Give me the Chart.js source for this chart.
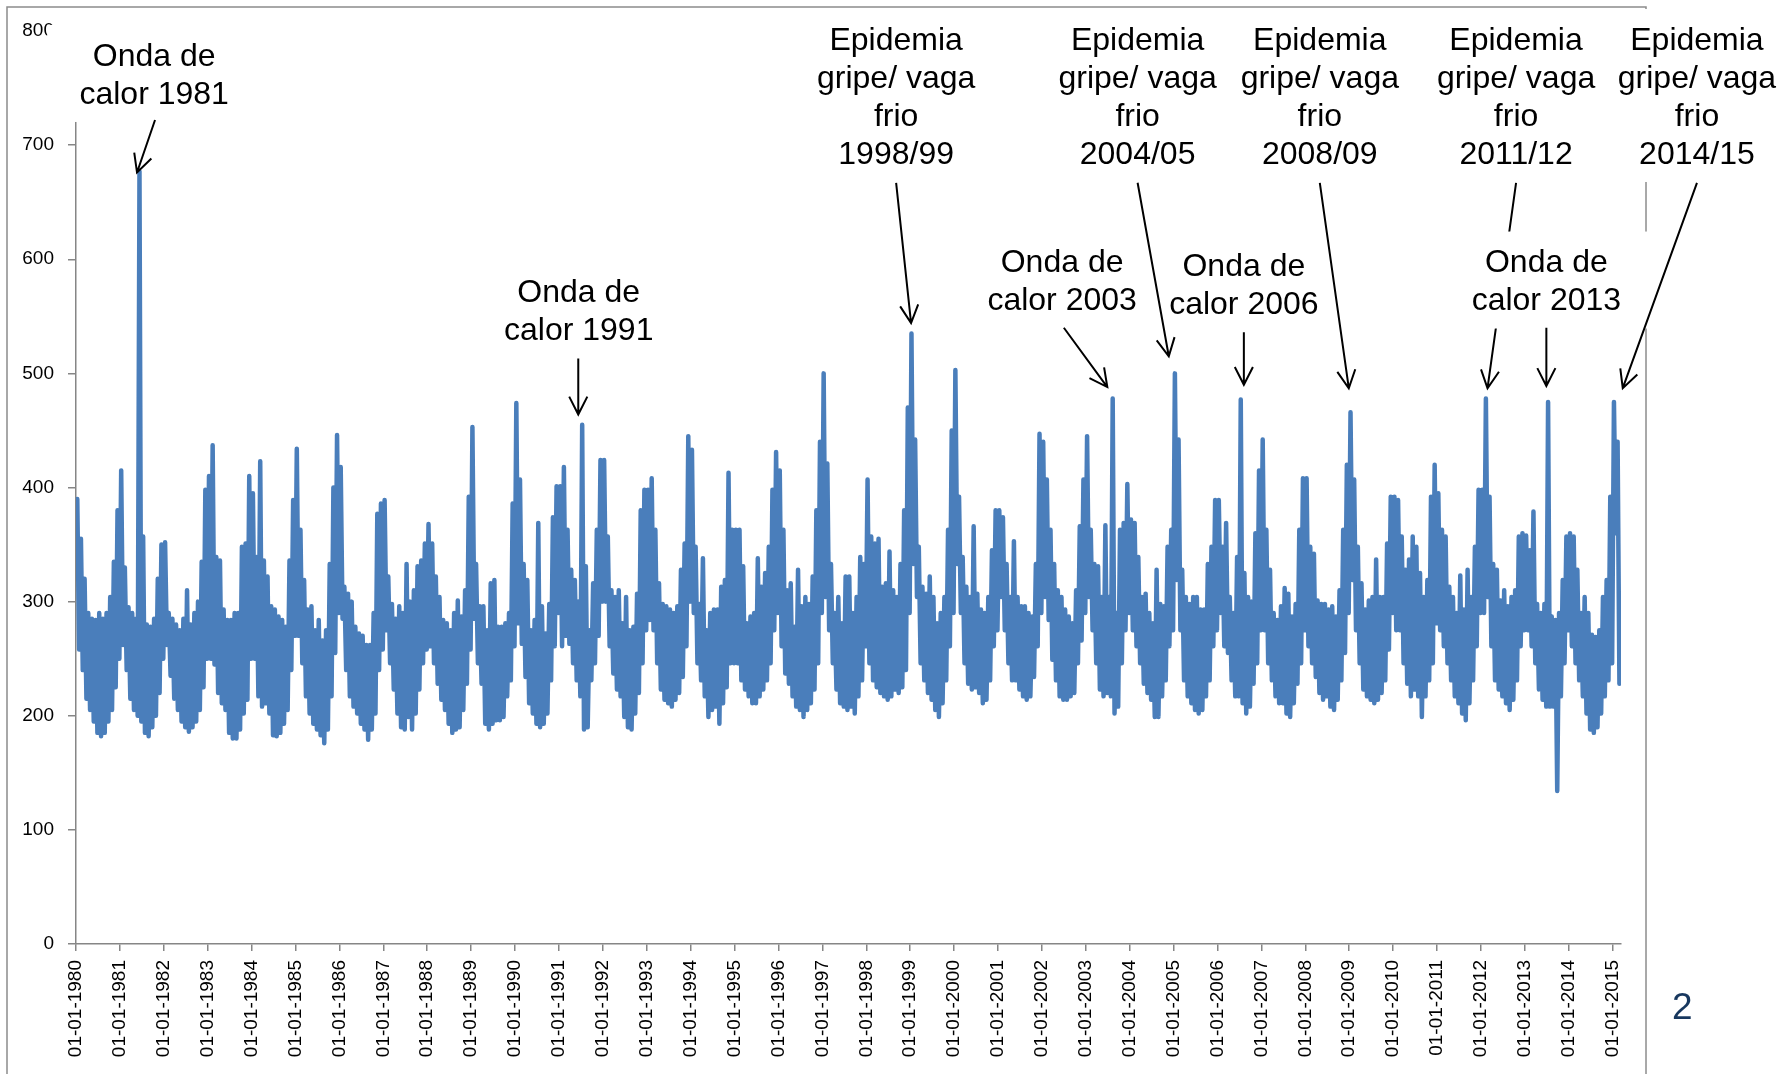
<!DOCTYPE html>
<html>
<head>
<meta charset="utf-8">
<script src="https://cdn.jsdelivr.net/npm/chart.js@4.4.1/dist/chart.umd.min.js"></script>
<style>
  html, body { margin: 0; padding: 0; background: #fff; }
  #wrap { position: relative; width: 1786px; height: 1074px; overflow: hidden; }
  #slideNo { position: absolute; left: 1672px; top: 986px; font: 37px "Liberation Sans", Arial, sans-serif; color: #17375E; }
</style>
</head>
<body>
<div id="wrap">
  <canvas id="chart" width="1786" height="1074"></canvas>
  <div id="slideNo">2</div>
</div>
<script>
const firstYear = 1980;
const tickYears = [1980, 1981, 1982, 1983, 1984, 1985, 1986, 1987, 1988, 1989,
  1990, 1991, 1992, 1993, 1994, 1995, 1996, 1997, 1998, 1999,
  2000, 2001, 2002, 2003, 2004, 2005, 2006, 2007, 2008, 2009,
  2010, 2011, 2012, 2013, 2014, 2015];

// máximo de cada mês (uma linha por ano, jan..dez)
const monthlyHigh = [
  [390, 355, 320, 290, 285, 284, 290, 285, 290, 304, 335, 380], // 1980
  [415, 330, 295, 290, 285, 677, 357, 280, 278, 285, 320, 350],
  [352, 290, 285, 280, 275, 285, 310, 280, 290, 300, 335, 398],
  [410, 437, 339, 336, 293, 284, 284, 290, 290, 348, 351, 410],
  [395, 339, 423, 336, 322, 296, 293, 287, 284, 278, 336, 389],
  [434, 363, 319, 293, 296, 275, 284, 266, 275, 333, 400, 446], // 1985
  [418, 313, 307, 300, 278, 272, 270, 262, 262, 290, 377, 386],
  [389, 322, 298, 285, 296, 290, 333, 300, 310, 331, 336, 351],
  [368, 351, 322, 304, 284, 281, 275, 290, 301, 287, 310, 392],
  [453, 333, 296, 296, 275, 316, 319, 278, 278, 281, 290, 386],
  [474, 407, 333, 319, 275, 284, 369, 296, 272, 298, 374, 401], // 1990
  [401, 418, 363, 328, 319, 300, 455, 331, 275, 316, 363, 424],
  [424, 357, 310, 304, 310, 281, 304, 275, 278, 307, 380, 398],
  [398, 408, 363, 316, 298, 296, 293, 290, 296, 328, 351, 445],
  [433, 348, 298, 338, 275, 290, 293, 293, 313, 319, 413, 363],
  [363, 363, 331, 281, 287, 290, 338, 313, 325, 348, 398, 431], // 1995
  [415, 363, 310, 316, 278, 328, 296, 304, 298, 322, 380, 440],
  [500, 421, 333, 290, 304, 281, 322, 322, 290, 304, 339, 333],
  [407, 357, 351, 355, 313, 316, 344, 310, 304, 333, 380, 470],
  [535, 442, 348, 313, 307, 322, 304, 281, 290, 304, 363, 450],
  [503, 392, 339, 313, 304, 366, 307, 293, 290, 304, 345, 380], // 2000
  [380, 374, 333, 304, 353, 304, 296, 296, 290, 287, 333, 447],
  [440, 407, 363, 333, 310, 304, 293, 287, 281, 310, 366, 407],
  [445, 363, 333, 331, 304, 367, 304, 478, 290, 363, 369, 403],
  [372, 369, 339, 304, 307, 290, 281, 328, 298, 296, 348, 363],
  [500, 442, 328, 304, 298, 304, 304, 293, 293, 333, 348, 389], // 2005
  [389, 348, 369, 304, 290, 339, 477, 325, 304, 300, 360, 415],
  [442, 363, 328, 290, 284, 296, 312, 307, 287, 298, 363, 408],
  [408, 348, 342, 301, 298, 298, 293, 296, 287, 310, 363, 420],
  [466, 407, 348, 316, 293, 301, 304, 337, 304, 304, 351, 392],
  [392, 389, 357, 328, 337, 357, 348, 325, 304, 319, 392, 420], // 2010
  [395, 363, 357, 313, 304, 290, 323, 293, 328, 304, 348, 398],
  [398, 478, 392, 333, 328, 301, 310, 296, 304, 310, 357, 360],
  [358, 345, 379, 298, 290, 298, 475, 287, 284, 290, 319, 357],
  [360, 357, 328, 290, 304, 290, 271, 269, 275, 304, 319, 392],
  [475, 440] // 2015
];

// mínimo de cada mês
const monthlyLow = [
  [258, 240, 215, 205, 195, 185, 182, 185, 195, 205, 225, 250], // 1980
  [262, 240, 215, 205, 200, 195, 185, 182, 190, 200, 220, 250],
  [262, 235, 215, 205, 195, 190, 186, 190, 195, 205, 225, 250],
  [250, 245, 220, 211, 205, 185, 180, 180, 188, 202, 214, 250],
  [250, 217, 208, 211, 202, 183, 182, 185, 193, 205, 240, 270],
  [270, 246, 217, 202, 193, 188, 183, 176, 188, 217, 255, 290], // 1985
  [285, 240, 217, 208, 202, 193, 188, 179, 188, 202, 240, 258],
  [275, 246, 223, 202, 190, 188, 199, 188, 202, 223, 246, 258],
  [261, 246, 228, 214, 205, 193, 185, 188, 190, 205, 228, 258],
  [285, 246, 228, 193, 188, 193, 196, 196, 199, 217, 231, 261],
  [281, 263, 234, 211, 202, 193, 190, 193, 202, 231, 261, 290], // 1990
  [261, 270, 263, 246, 231, 217, 188, 190, 231, 246, 270, 300],
  [300, 261, 237, 223, 217, 199, 190, 188, 202, 220, 246, 275],
  [284, 275, 246, 223, 214, 211, 208, 214, 220, 234, 261, 300],
  [290, 246, 231, 217, 199, 205, 208, 193, 211, 225, 246, 246],
  [246, 231, 223, 217, 211, 211, 217, 223, 231, 246, 275, 290], // 1995
  [261, 237, 228, 217, 208, 205, 199, 205, 211, 223, 246, 290],
  [304, 275, 246, 223, 211, 208, 205, 208, 202, 217, 231, 261],
  [246, 231, 225, 220, 217, 214, 217, 223, 220, 225, 240, 290],
  [333, 304, 246, 231, 220, 214, 205, 199, 211, 231, 261, 290],
  [333, 290, 246, 228, 223, 225, 220, 211, 214, 231, 261, 275], // 2000
  [304, 275, 246, 231, 231, 223, 217, 214, 217, 234, 261, 290],
  [304, 284, 249, 231, 217, 214, 214, 217, 220, 246, 266, 290],
  [304, 275, 246, 223, 217, 220, 217, 202, 208, 246, 275, 290],
  [275, 261, 246, 228, 220, 214, 199, 199, 217, 231, 261, 275],
  [319, 275, 231, 217, 211, 205, 202, 205, 217, 231, 261, 275], // 2005
  [290, 261, 255, 231, 217, 217, 211, 202, 208, 228, 246, 275],
  [275, 246, 231, 217, 211, 211, 202, 199, 211, 228, 246, 275],
  [261, 246, 234, 220, 214, 217, 208, 205, 214, 231, 255, 290],
  [319, 275, 246, 223, 217, 214, 211, 214, 220, 231, 258, 290],
  [275, 275, 246, 228, 217, 223, 217, 199, 217, 231, 246, 281], // 2010
  [275, 261, 246, 231, 217, 211, 202, 196, 211, 231, 261, 290],
  [290, 304, 261, 231, 223, 217, 211, 205, 214, 231, 261, 275],
  [275, 261, 246, 223, 214, 208, 208, 208, 134, 217, 246, 275],
  [261, 246, 231, 217, 202, 188, 185, 190, 202, 217, 231, 246],
  [360, 228] // 2015
];

// anotações: texto, âncora do texto (ano, valor) e seta (de -> para), em coordenadas dos dados
const callouts = [
  { lines: ['Onda de', 'calor 1981'], at: [1981.78, 779], from: [1981.80, 722], to: [1981.39, 676] },
  { lines: ['Onda de', 'calor 1991'], at: [1991.45, 572], from: [1991.44, 513], to: [1991.44, 464] },
  { lines: ['Epidemia', 'gripe/ vaga', 'frio', '1998/99'], at: [1998.68, 793], from: [1998.68, 667], to: [1999.02, 544] },
  { lines: ['Onda de', 'calor 2003'], at: [2002.46, 598], from: [2002.50, 540], to: [2003.49, 488] },
  { lines: ['Epidemia', 'gripe/ vaga', 'frio', '2004/05'], at: [2004.18, 793], from: [2004.18, 667], to: [2004.89, 515] },
  { lines: ['Onda de', 'calor 2006'], at: [2006.60, 595], from: [2006.60, 536], to: [2006.60, 490] },
  { lines: ['Epidemia', 'gripe/ vaga', 'frio', '2008/09'], at: [2008.33, 793], from: [2008.33, 667], to: [2008.99, 487] },
  { lines: ['Epidemia', 'gripe/ vaga', 'frio', '2011/12'], at: [2012.80, 793], from: [2012.80, 667], to: [2012.15, 487], behind: true },
  { lines: ['Onda de', 'calor 2013'], at: [2013.49, 598], from: [2013.49, 540], to: [2013.49, 489] },
  { lines: ['Epidemia', 'gripe/ vaga', 'frio', '2014/15'], at: [2016.92, 793], from: [2016.92, 667], to: [2015.23, 487] }
];

// série em zigue-zague: máximo e mínimo de cada mês
const points = [];
monthlyHigh.forEach((row, yi) => {
  row.forEach((hi, m) => {
    const t = firstYear + yi + m / 12;
    points.push({ x: t + 0.35 / 12, y: hi });
    points.push({ x: t + 0.85 / 12, y: monthlyLow[yi][m] });
  });
});

const FONT = '"Liberation Sans", Arial, sans-serif';

// moldura cinzenta do gráfico
const framePlugin = {
  id: 'frame',
  beforeDraw(chart) {
    const ctx = chart.ctx;
    ctx.save();
    ctx.strokeStyle = '#8c8c8c';
    ctx.lineWidth = 1.5;
    ctx.strokeRect(7, 7, 1639, 1200);
    ctx.restore();
  }
};

function drawArrow(ctx, x0, y0, x1, y1) {
  const ang = Math.atan2(y1 - y0, x1 - x0);
  const head = 20, spread = 0.47;
  ctx.beginPath();
  ctx.moveTo(x0, y0);
  ctx.lineTo(x1, y1);
  ctx.moveTo(x1 - head * Math.cos(ang - spread), y1 - head * Math.sin(ang - spread));
  ctx.lineTo(x1, y1);
  ctx.lineTo(x1 - head * Math.cos(ang + spread), y1 - head * Math.sin(ang + spread));
  ctx.stroke();
}

// caixas de texto brancas + setas
const calloutPlugin = {
  id: 'callouts',
  afterDraw(chart) {
    const { ctx, scales: { x, y } } = chart;
    const lineH = 38;
    const arrow = c => drawArrow(ctx,
      x.getPixelForValue(c.from[0]), y.getPixelForValue(c.from[1]),
      x.getPixelForValue(c.to[0]), y.getPixelForValue(c.to[1]));

    ctx.save();
    ctx.strokeStyle = '#000';
    ctx.lineWidth = 2;
    ctx.lineCap = 'butt';

    callouts.filter(c => c.behind).forEach(arrow);

    // caixas
    ctx.fillStyle = '#fff';
    callouts.forEach(c => {
      const cx = x.getPixelForValue(c.at[0]);
      const cy = y.getPixelForValue(c.at[1]);
      const w = c.lines.length > 2 ? 190 : 214;
      const top = cy - 30;
      const bottom = cy + (c.lines.length - 1) * lineH + 29;
      ctx.fillRect(cx - w / 2, top, w, bottom - top);
    });

    // textos
    ctx.fillStyle = '#000';
    ctx.font = '32px ' + FONT;
    ctx.textAlign = 'center';
    ctx.textBaseline = 'middle';
    callouts.forEach(c => {
      const cx = x.getPixelForValue(c.at[0]);
      const cy = y.getPixelForValue(c.at[1]) + 2;
      c.lines.forEach((t, i) => ctx.fillText(t, cx, cy + i * lineH));
    });

    callouts.filter(c => !c.behind).forEach(arrow);
    ctx.restore();
  }
};

new Chart(document.getElementById('chart'), {
  type: 'line',
  data: {
    datasets: [{
      data: points,
      borderColor: '#4A7EBB',
      borderWidth: 4.5,
      borderJoinStyle: 'round',
      borderCapStyle: 'round',
      pointRadius: 0,
      tension: 0,
      fill: false
    }]
  },
  options: {
    responsive: false,
    animation: false,
    parsing: false,
    normalized: true,
    events: [],
    layout: { padding: { top: 31, right: 165, left: 0, bottom: 0 } },
    plugins: { legend: { display: false }, tooltip: { enabled: false } },
    scales: {
      x: {
        type: 'linear',
        min: 1980,
        max: 2015.19,
        afterBuildTicks: s => { s.ticks = tickYears.map(v => ({ value: v })); },
        afterFit: s => { s.height = 130; },
        grid: { drawOnChartArea: false, color: '#868686', tickLength: 7, lineWidth: 1.5 },
        border: { color: '#868686', width: 1.5 },
        ticks: {
          autoSkip: false,
          minRotation: 90,
          maxRotation: 90,
          padding: 9,
          color: '#000',
          font: { family: FONT, size: 19 },
          callback: v => '01-01-' + v
        }
      },
      y: {
        min: 0,
        max: 800,
        afterFit: s => { s.width = 76; },
        grid: { drawOnChartArea: false, color: '#868686', tickLength: 8, lineWidth: 1.5 },
        border: { color: '#868686', width: 1.5 },
        ticks: { stepSize: 100, padding: 14, color: '#000', font: { family: FONT, size: 19 } }
      }
    }
  },
  plugins: [framePlugin, calloutPlugin]
});
</script>
</body>
</html>
